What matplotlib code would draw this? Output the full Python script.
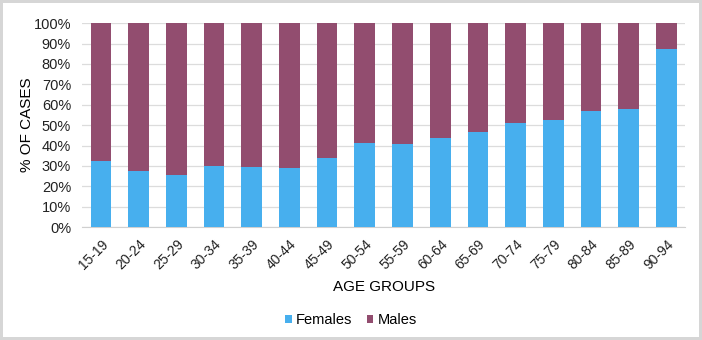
import numpy as np
import matplotlib.pyplot as plt
from matplotlib.ticker import PercentFormatter

plt.rcParams['font.family'] = ['Liberation Sans', 'DejaVu Sans']

age_groups = ['15-19', '20-24', '25-29', '30-34', '35-39', '40-44', '45-49', '50-54',
              '55-59', '60-64', '65-69', '70-74', '75-79', '80-84', '85-89', '90-94']
females = [32.4, 27.7, 25.6, 29.9, 29.4, 28.9, 34.1, 41.2,
           40.8, 43.9, 46.4, 51.1, 52.5, 56.7, 58.0, 87.4]
males = [100 - f for f in females]

fem_color = '#47AFEE'
male_color = '#924D6F'

fig = plt.figure(figsize=(7.02, 3.40), dpi=100)
fig.patch.set_edgecolor('#d6d6d6')
fig.patch.set_linewidth(3)
ax = fig.add_axes([0.117, 0.332, 0.859, 0.600])

x = np.arange(len(age_groups))
ax.bar(x, females, width=0.55, color=fem_color, label='Females', zorder=3)
ax.bar(x, males, width=0.55, bottom=females, color=male_color, label='Males', zorder=3)

ax.set_xlim(-0.5, len(age_groups) - 0.5)
ax.set_ylim(0, 100)
ax.set_yticks(np.arange(0, 101, 10))
ax.yaxis.set_major_formatter(PercentFormatter(decimals=0))
ax.grid(axis='y', color='#dcdcdc', linewidth=0.9, zorder=0)

for s in ['top', 'right', 'left']:
    ax.spines[s].set_visible(False)
ax.spines['bottom'].set_color('#d0d0d0')
ax.tick_params(axis='both', length=0, labelsize=10.5, colors='#222222')
ax.tick_params(axis='y', pad=8)
ax.tick_params(axis='x', pad=7)

ax.set_xticks(x)
ax.set_xticklabels(age_groups, rotation=45, ha='right', rotation_mode='anchor', fontsize=10)

ax.set_xlabel('AGE GROUPS', fontsize=11, labelpad=6)
ax.set_ylabel('% OF CASES', fontsize=11, labelpad=0)

fig.legend(loc='lower center', bbox_to_anchor=(0.5, 0.0), ncol=2, frameon=False,
           fontsize=10.5, handlelength=0.45, handleheight=0.45, handletextpad=0.3,
           columnspacing=1.0)

fig.savefig('out.png', dpi=100)
